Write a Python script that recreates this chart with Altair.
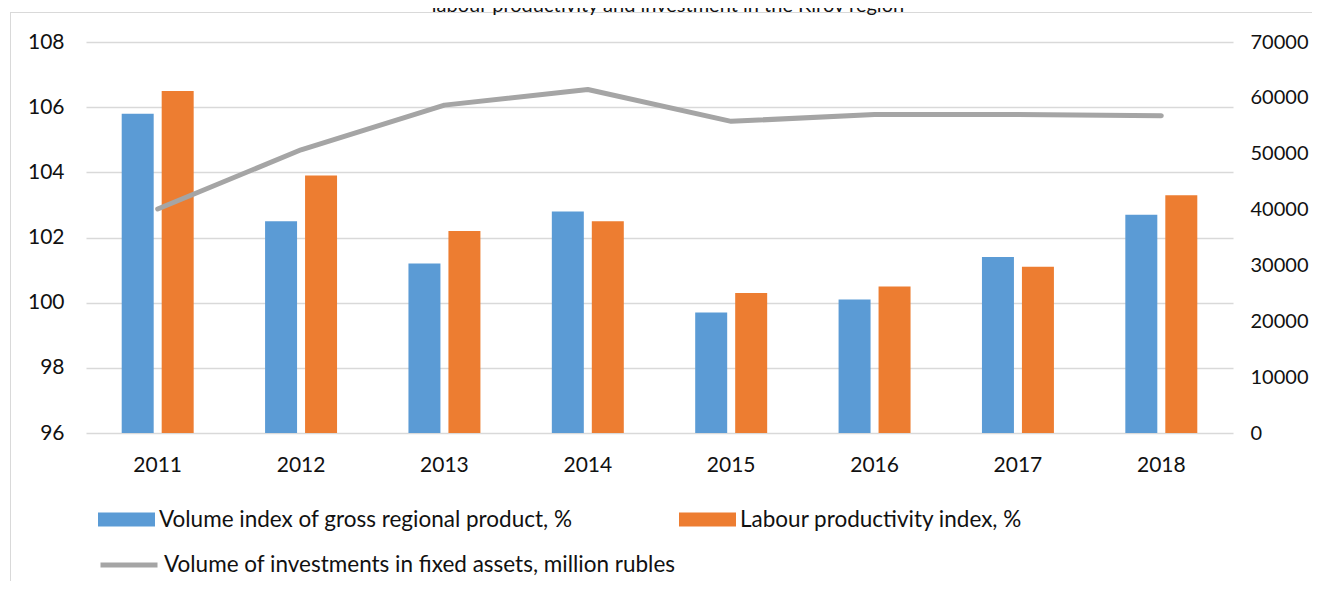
import altair as alt
import pandas as pd

years = ["2011", "2012", "2013", "2014", "2015", "2016", "2017", "2018"]
grp_index = [105.8, 102.5, 101.2, 102.8, 99.7, 100.1, 101.4, 102.7]
labour_index = [106.5, 103.9, 102.2, 102.5, 100.3, 100.5, 101.1, 103.3]
investments = [40100, 50700, 58700, 61500, 55800, 57000, 57000, 56800]

left_ticks = [96, 98, 100, 102, 104, 106, 108]
right_ticks = [0, 10000, 20000, 30000, 40000, 50000, 60000, 70000]

s1 = "Volume index of gross regional product, %"
s2 = "Labour productivity index, %"
s3 = "Volume of investments in fixed assets, million rubles"
title_text = "labour productivity and investment in the Kirov region"

bars_df = pd.DataFrame({
    "year": years * 2,
    "series": [s1] * len(years) + [s2] * len(years),
    "value": grp_index + labour_index,
})
line_df = pd.DataFrame({"year": years, "line_series": [s3] * len(years), "invest": investments})

FONT = "Lato"
FS = 21
LFS = 22.5
TXT = "#111111"

x_enc = alt.X(
    "year:N", title=None, sort=years,
    scale=alt.Scale(paddingInner=0.498, paddingOuter=0.249),
    axis=alt.Axis(labelAngle=0, domain=False, ticks=False, labelPadding=21,
                  labelFontSize=FS, labelFont=FONT, labelColor=TXT, grid=False),
)

bars = alt.Chart(bars_df).mark_bar().encode(
    x=x_enc,
    xOffset=alt.XOffset("series:N", sort=[s1, s2],
                        scale=alt.Scale(domain=[s1, s2], paddingInner=0.2, paddingOuter=0)),
    y=alt.Y("value:Q", title=None,
            scale=alt.Scale(domain=[96, 108], zero=False, nice=False),
            axis=alt.Axis(values=left_ticks, grid=True, gridColor="#d9d9d9", gridWidth=1.5,
                          domain=False, ticks=False, labelPadding=22, labelFontSize=FS,
                          labelFont=FONT, labelColor=TXT)),
    y2=alt.datum(96),
    color=alt.Color("series:N", sort=[s1, s2],
                    scale=alt.Scale(domain=[s1, s2], range=["#5b9bd5", "#ed7d31"]),
                    legend=alt.Legend(orient="none", legendX=12, legendY=449, columns=2,
                                      columnPadding=106, title=None, padding=0,
                                      symbolType="M-1,-0.245H1V0.245H-1Z", symbolSize=3249,
                                      symbolStrokeWidth=0, labelFontSize=LFS, labelFont=FONT,
                                      labelColor=TXT, labelOffset=4, labelLimit=0)),
)

line = alt.Chart(line_df).mark_line(strokeWidth=5, strokeCap="round", strokeJoin="round").encode(
    x=x_enc,
    y=alt.Y("invest:Q", title=None,
            scale=alt.Scale(domain=[0, 70000], nice=False),
            axis=alt.Axis(orient="right", values=right_ticks, grid=False, domain=False,
                          ticks=False, labelPadding=17, labelFontSize=20, labelFont=FONT,
                          labelColor=TXT, format="d")),
    stroke=alt.Stroke("line_series:N", scale=alt.Scale(domain=[s3], range=["#a5a5a5"]),
                      legend=alt.Legend(orient="none", legendX=12, legendY=492, title=None,
                                        padding=0, symbolType="stroke", symbolSize=3249,
                                        symbolStrokeWidth=5, labelFontSize=LFS, labelFont=FONT,
                                        labelColor=TXT, labelOffset=4, labelLimit=0)),
)

one = pd.DataFrame({"t": [title_text]})
border_top = alt.Chart(one).mark_rule(color="#d9d9d9", strokeWidth=1).encode(
    x=alt.value(-76), x2=alt.value(1240), y=alt.value(-29.5))
border_left = alt.Chart(one).mark_rule(color="#d9d9d9", strokeWidth=1).encode(
    x=alt.value(-75.5), y=alt.value(-30), y2=alt.value(560))
title = alt.Chart(one).mark_text(font=FONT, fontSize=20, color=TXT, align="center",
                                 baseline="alphabetic").encode(
    text="t:N", x=alt.value(582), y=alt.value(-30))

chart = alt.layer(border_top, border_left, title, bars, line).resolve_scale(
    y="independent", color="independent", stroke="independent"
).properties(
    width=1147, height=391,
    autosize=alt.AutoSizeParams(type="none"),
    padding={"left": 78, "top": 34, "right": 79, "bottom": 148},
).configure_view(stroke=None)

chart.save("out.html", embed_options={"renderer": "svg", "actions": False})
